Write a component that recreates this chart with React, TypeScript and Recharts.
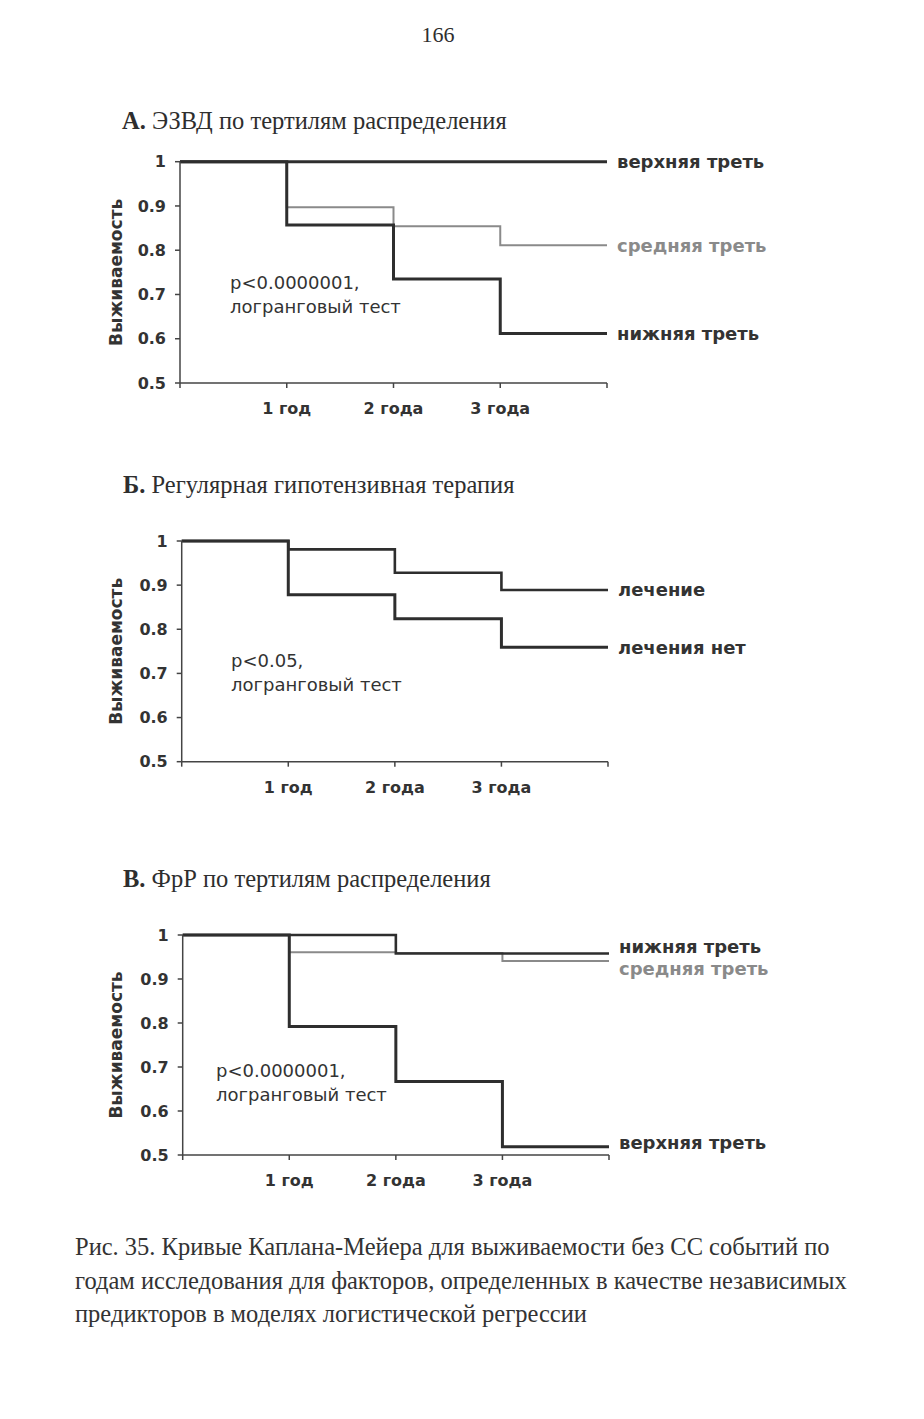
import React from 'react';
import { LineChart, Line, XAxis, YAxis, Label } from 'recharts';

// ---- data ----
const years = [0, 1, 2, 3, 4];
const yearTickLabels = ['', '1 год', '2 года', '3 года', ''];
const yTicks = [0.5, 0.6, 0.7, 0.8, 0.9, 1];

// A. ЭЗВД по тертилям распределения
const aUpper = [1, 1, 1, 1, 1];
const aMiddle = [1, 0.897, 0.854, 0.811, 0.811];
const aLower = [1, 0.857, 0.735, 0.612, 0.612];

// Б. Регулярная гипотензивная терапия
const bTreated = [1, 0.981, 0.928, 0.889, 0.889];
const bUntreated = [1, 0.878, 0.824, 0.759, 0.759];

// В. ФрР по тертилям распределения
const cLower = [1, 1, 0.958, 0.958, 0.958];
const cMiddle = [1, 0.961, 0.959, 0.941, 0.941];
const cUpper = [1, 0.792, 0.667, 0.519, 0.519];

const SANS = 'DejaVu Sans';
const SERIF = '"Liberation Serif", "Times New Roman", serif';
const DARK = '#2e2e2e';
const GRAY = '#8a8a8a';

type Series = { key: string; name: string; values: number[]; color: string; width: number; dy: number };

function buildRows(series: Series[]) {
  return years.map((yr, i) => {
    const row: Record<string, number> = { year: yr };
    series.forEach((s) => {
      row[s.key] = s.values[i];
    });
    return row;
  });
}

type ChartProps = {
  left: number;
  top: number;
  plotLeft: number;
  plotTop: number;
  plotWidth: number;
  plotHeight: number;
  series: Series[];
};

function KMChart({ left, top, plotLeft, plotTop, plotWidth, plotHeight, series }: ChartProps) {
  const yAxisWidth = plotLeft - left;
  const marginTop = plotTop - top;
  const rightRoom = 200;
  const xAxisHeight = 40;
  const width = yAxisWidth + plotWidth + rightRoom;
  const height = marginTop + plotHeight + xAxisHeight;
  const rows = buildRows(series);
  const lastIndex = years.length - 1;
  return (
    <div style={{ position: 'absolute', left, top, width, height }}>
      <LineChart width={width} height={height} data={rows} margin={{ top: marginTop, right: rightRoom, bottom: 0, left: 0 }}>
        <XAxis
          dataKey="year"
          type="number"
          domain={[0, 4]}
          ticks={years}
          tickFormatter={(v: number) => yearTickLabels[years.indexOf(v)] ?? ''}
          tickSize={5}
          tickMargin={15}
          height={xAxisHeight}
          stroke="#444"
          strokeWidth={1.5}
          tick={{ fontFamily: SANS, fontWeight: 'bold', fontSize: 16, fill: '#333' }}
          interval={0}
        />
        <YAxis
          type="number"
          domain={[0.5, 1]}
          ticks={yTicks}
          tickFormatter={(v: number) => (v === 1 ? '1' : v.toFixed(1))}
          width={yAxisWidth}
          tickSize={5}
          tickMargin={9}
          stroke="#444"
          strokeWidth={1.5}
          tick={{ fontFamily: SANS, fontWeight: 'bold', fontSize: 16, fill: '#333' }}
          interval={0}
        >
          <Label
            content={(p: any) => {
              const vb = p.viewBox || { x: 0, y: 0, width: 0, height: 0 };
              const cx = vb.x + 20;
              const cy = vb.y + vb.height / 2;
              return (
                <text
                  x={cx}
                  y={cy}
                  transform={`rotate(-90, ${cx}, ${cy})`}
                  textAnchor="middle"
                  dominantBaseline="central"
                  fontFamily={SANS}
                  fontWeight="bold"
                  fontSize={17}
                  fill="#333"
                >
                  Выживаемость
                </text>
              );
            }}
          />
        </YAxis>
        {series.map((s) => (
          <Line
            key={s.key}
            type="stepAfter"
            dataKey={s.key}
            stroke={s.color}
            strokeWidth={s.width}
            dot={false}
            activeDot={false}
            isAnimationActive={false}
            label={(p: any) =>
              p.index === lastIndex ? (
                <text
                  key={`lbl-${s.key}`}
                  x={p.x + 10}
                  y={p.y + s.dy}
                  dominantBaseline="central"
                  fontFamily={SANS}
                  fontWeight="bold"
                  fontSize={18}
                  fill={s.color === GRAY ? GRAY : '#333'}
                >
                  {s.name}
                </text>
              ) : (
                <g key={`lbl-${s.key}-${p.index}`} />
              )
            }
          />
        ))}
      </LineChart>
    </div>
  );
}

const seriesA: Series[] = [
  { key: 'upper', name: 'верхняя треть', values: aUpper, color: DARK, width: 3, dy: 0 },
  { key: 'middle', name: 'средняя треть', values: aMiddle, color: GRAY, width: 2, dy: 0 },
  { key: 'lower', name: 'нижняя треть', values: aLower, color: DARK, width: 3, dy: 0 },
];
const seriesB: Series[] = [
  { key: 'treated', name: 'лечение', values: bTreated, color: DARK, width: 2.6, dy: 0 },
  { key: 'untreated', name: 'лечения нет', values: bUntreated, color: DARK, width: 3, dy: 0 },
];
const seriesC: Series[] = [
  { key: 'middle', name: 'средняя треть', values: cMiddle, color: GRAY, width: 2, dy: 8 },
  { key: 'lower', name: 'нижняя треть', values: cLower, color: DARK, width: 2.6, dy: -7 },
  { key: 'upper', name: 'верхняя треть', values: cUpper, color: DARK, width: 3, dy: -4 },
];

const titleStyle: React.CSSProperties = {
  position: 'absolute',
  fontFamily: SERIF,
  fontSize: 24.5,
  color: '#2e2e2e',
  whiteSpace: 'nowrap',
  lineHeight: '26px',
};

const noteStyle: React.CSSProperties = {
  position: 'absolute',
  fontFamily: SANS,
  fontSize: 18,
  color: '#333',
  whiteSpace: 'nowrap',
  lineHeight: '24px',
};

export default function App() {
  return (
    <div style={{ position: 'absolute', left: 0, top: 0, width: 924, height: 1419, background: '#fff', overflow: 'hidden' }}>
      <div style={{ ...titleStyle, left: 0, width: 876, textAlign: 'center', top: 22, fontSize: 22 }}>166</div>

      <div style={{ ...titleStyle, left: 122, top: 108 }}>
        <b>А.</b> ЭЗВД по тертилям распределения
      </div>
      <KMChart left={96} top={140} plotLeft={180} plotTop={161.7} plotWidth={427} plotHeight={221.3} series={seriesA} />
      <div style={{ ...noteStyle, left: 230, top: 271 }}>
        p&lt;0.0000001,
        <br />
        логранговый тест
      </div>

      <div style={{ ...titleStyle, left: 123, top: 472 }}>
        <b>Б.</b> Регулярная гипотензивная терапия
      </div>
      <KMChart left={96} top={520} plotLeft={181.7} plotTop={541} plotWidth={426.3} plotHeight={220.7} series={seriesB} />
      <div style={{ ...noteStyle, left: 231, top: 649 }}>
        p&lt;0.05,
        <br />
        логранговый тест
      </div>

      <div style={{ ...titleStyle, left: 123, top: 866 }}>
        <b>В.</b> ФрР по тертилям распределения
      </div>
      <KMChart left={96} top={914} plotLeft={182.7} plotTop={935} plotWidth={426.3} plotHeight={220} series={seriesC} />
      <div style={{ ...noteStyle, left: 216, top: 1059 }}>
        p&lt;0.0000001,
        <br />
        логранговый тест
      </div>

      <div style={{ ...titleStyle, left: 75, top: 1230, fontSize: 24.5, lineHeight: '33.5px', color: '#333' }}>
        Рис. 35. Кривые Каплана-Мейера для выживаемости без СС событий по
        <br />
        годам исследования для факторов, определенных в качестве независимых
        <br />
        предикторов в моделях логистической регрессии
      </div>
    </div>
  );
}
